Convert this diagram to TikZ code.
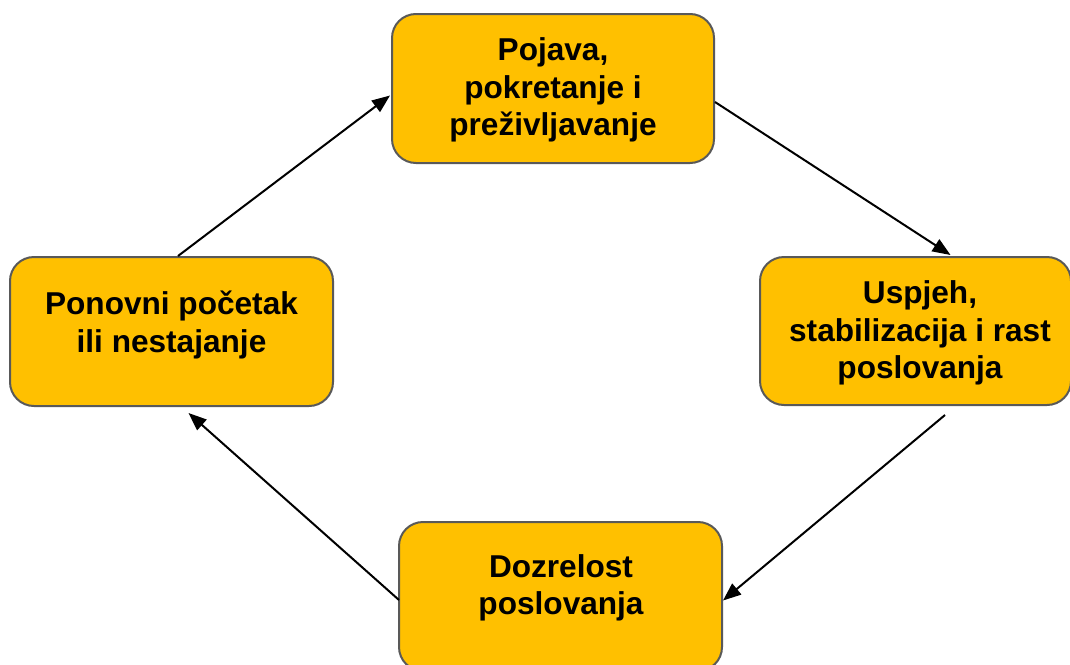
\documentclass[tikz,border=0pt]{standalone}
\usepackage{fontspec}
\setmainfont{Liberation Sans}
\usetikzlibrary{arrows.meta,calc}
\definecolor{boxfill}{HTML}{FFC000}
\definecolor{boxline}{HTML}{595959}
\begin{document}
\begin{tikzpicture}[x=1pt,y=-1pt,
  stage/.style={draw=boxline, line width=2pt, fill=boxfill, rounded corners=24pt,
    minimum width=323pt, minimum height=149pt, inner sep=0pt},
  lbl/.style={font=\fontsize{31.6}{37.5}\selectfont\bfseries, align=center, inner sep=0pt},
  conn/.style={line width=2pt, -{Triangle[length=18pt,width=14pt]}}]
\useasboundingbox (0,0) rectangle (1070,664);
\clip (0,0) rectangle (1070,664);
% boxes
\node[stage, minimum width=322pt] (top) at (553,88.5) {};
\node[stage, minimum width=311pt, minimum height=148pt] (right) at (915.5,331) {};
\node[stage] (left) at (171.5,331.5) {};
\node[stage] (bottom) at (560.5,596.5) {};
% labels
\node[lbl] (ttop) at (553,90) {Pojava,\\pokretanje i\\preživljavanje};
\node[lbl] (tright) at (920,333) {Uspjeh,\\stabilizacija i rast\\poslovanja};
\node[lbl] (tleft) at (171.5,325) {Ponovni početak\\ili nestajanje};
\node[lbl] (tbottom) at (561,588) {Dozrelost\\poslovanja};
% connectors
\draw[conn] ([yshift=-13.5pt]top.east) -- ([xshift=35pt,yshift=1pt]right.north);
\draw[conn] ([xshift=29.5pt,yshift=-9pt]right.south) -- ([yshift=-4pt]bottom.east);
\draw[conn] ([xshift=1pt,yshift=-3.5pt]bottom.west) -- ([xshift=17pt,yshift=-6pt]left.south);
\draw[conn] ([xshift=6.5pt]left.north) -- ([xshift=-1pt,yshift=-7pt]top.west);
\end{tikzpicture}
\end{document}
